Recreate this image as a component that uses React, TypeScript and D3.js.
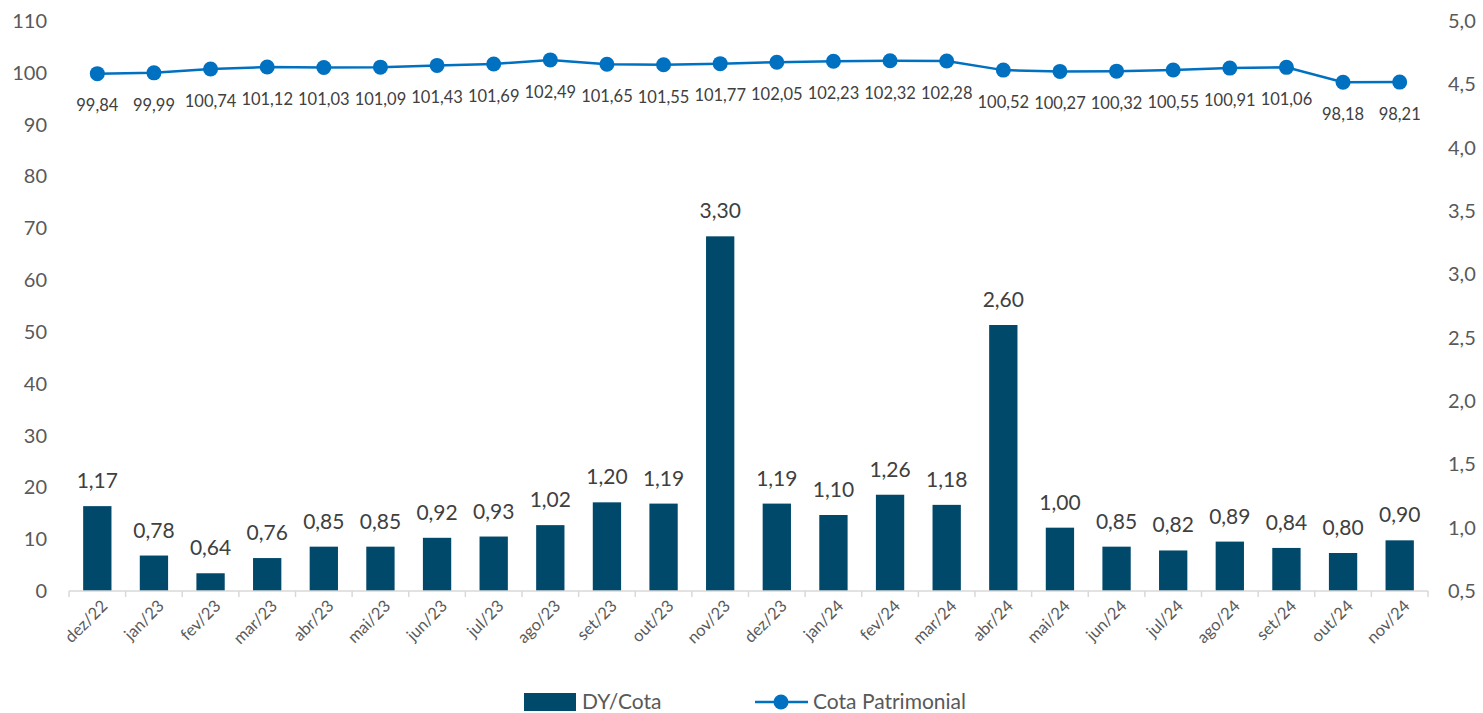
import { useEffect, useRef } from "react";
import * as d3 from "d3";

const months = [
  "dez/22", "jan/23", "fev/23", "mar/23", "abr/23", "mai/23", "jun/23", "jul/23",
  "ago/23", "set/23", "out/23", "nov/23", "dez/23", "jan/24", "fev/24", "mar/24",
  "abr/24", "mai/24", "jun/24", "jul/24", "ago/24", "set/24", "out/24", "nov/24",
];
const dyCota = [
  1.17, 0.78, 0.64, 0.76, 0.85, 0.85, 0.92, 0.93, 1.02, 1.2, 1.19, 3.3,
  1.19, 1.1, 1.26, 1.18, 2.6, 1.0, 0.85, 0.82, 0.89, 0.84, 0.8, 0.9,
];
const cotaPatrimonial = [
  99.84, 99.99, 100.74, 101.12, 101.03, 101.09, 101.43, 101.69, 102.49, 101.65, 101.55, 101.77,
  102.05, 102.23, 102.32, 102.28, 100.52, 100.27, 100.32, 100.55, 100.91, 101.06, 98.18, 98.21,
];
const leftTicks = [0, 10, 20, 30, 40, 50, 60, 70, 80, 90, 100, 110];
const rightTicks = [0.5, 1, 1.5, 2, 2.5, 3, 3.5, 4, 4.5, 5];

const FONT = "Lato, 'Open Sans', sans-serif";
const BAR = "#01496b";
const LINE = "#0070c0";
const TXT = "#595959";

const fmt = (v: number, d: number) => v.toFixed(d).replace(".", ",");

export default function App() {
  const ref = useRef<SVGSVGElement>(null);

  useEffect(() => {
    if (!ref.current) return;
    const svg = d3.select(ref.current);
    svg.selectAll("*").remove();

    const left = 69;
    const right = 1428;
    const top = 21;
    const bottom = 591;

    const x = d3.scaleBand<string>().domain(months).range([left, right]).paddingInner(0.5).paddingOuter(0.25);
    const yL = d3.scaleLinear().domain([0, 110]).range([bottom, top]);
    const yR = d3.scaleLinear().domain([0.5, 5]).range([bottom, top]);
    const cx = (m: string) => x(m)! + x.bandwidth() / 2;
    const step = x.step();

    // left axis labels
    svg.append("g")
      .selectAll("text")
      .data(leftTicks)
      .join("text")
      .attr("x", 47)
      .attr("y", (d) => yL(d))
      .attr("dy", "0.35em")
      .attr("text-anchor", "end")
      .attr("font-size", 20)
      .attr("font-family", FONT)
      .attr("fill", TXT)
      .text((d) => d);

    // right axis labels
    svg.append("g")
      .selectAll("text")
      .data(rightTicks)
      .join("text")
      .attr("x", 1448)
      .attr("y", (d) => yR(d))
      .attr("dy", "0.35em")
      .attr("text-anchor", "start")
      .attr("font-size", 20)
      .attr("font-family", FONT)
      .attr("fill", TXT)
      .text((d) => fmt(d, 1));

    // bars
    svg.append("g")
      .selectAll("rect")
      .data(months)
      .join("rect")
      .attr("x", (m) => x(m)!)
      .attr("width", x.bandwidth())
      .attr("y", (_, i) => yR(dyCota[i]))
      .attr("height", (_, i) => bottom - yR(dyCota[i]))
      .attr("fill", BAR);

    svg.append("g")
      .selectAll("text")
      .data(months)
      .join("text")
      .attr("x", (m) => cx(m))
      .attr("y", (_, i) => yR(dyCota[i]) - 18)
      .attr("text-anchor", "middle")
      .attr("font-size", 21)
      .attr("font-family", FONT)
      .attr("fill", "#404040")
      .text((_, i) => fmt(dyCota[i], 2));

    // x axis
    const ax = svg.append("g");
    ax.append("line")
      .attr("x1", left).attr("x2", right)
      .attr("y1", bottom).attr("y2", bottom)
      .attr("stroke", "#d9d9d9").attr("stroke-width", 1.5);
    ax.selectAll("line.tick")
      .data(d3.range(months.length + 1))
      .join("line")
      .attr("class", "tick")
      .attr("x1", (i) => left + i * step).attr("x2", (i) => left + i * step)
      .attr("y1", bottom).attr("y2", bottom + 6)
      .attr("stroke", "#d9d9d9").attr("stroke-width", 1.5);
    ax.selectAll("text")
      .data(months)
      .join("text")
      .attr("transform", (m) => `translate(${cx(m) + 7},${bottom + 12}) rotate(-45)`)
      .attr("text-anchor", "end")
      .attr("dy", "0.35em")
      .attr("font-size", 16.5)
      .attr("font-family", FONT)
      .attr("fill", TXT)
      .text((m) => m);

    // line
    const line = d3.line<number>()
      .x((_, i) => cx(months[i]))
      .y((d) => yL(d));
    svg.append("path")
      .datum(cotaPatrimonial)
      .attr("d", line)
      .attr("fill", "none")
      .attr("stroke", LINE)
      .attr("stroke-width", 2.5);
    svg.append("g")
      .selectAll("circle")
      .data(cotaPatrimonial)
      .join("circle")
      .attr("cx", (_, i) => cx(months[i]))
      .attr("cy", (d) => yL(d))
      .attr("r", 7.5)
      .attr("fill", LINE);
    svg.append("g")
      .selectAll("text")
      .data(cotaPatrimonial)
      .join("text")
      .attr("x", (_, i) => cx(months[i]))
      .attr("y", (d) => yL(d) + 32)
      .attr("dy", "0.35em")
      .attr("text-anchor", "middle")
      .attr("font-size", 16.5)
      .attr("font-family", FONT)
      .attr("fill", "#404040")
      .text((d) => fmt(d, 2));

    // legend
    const lg = svg.append("g");
    lg.append("rect").attr("x", 524).attr("y", 693).attr("width", 52).attr("height", 18).attr("fill", BAR);
    lg.append("text").attr("x", 582).attr("y", 702).attr("dy", "0.35em")
      .attr("font-size", 21).attr("font-family", FONT).attr("fill", TXT).text("DY/Cota");
    lg.append("line").attr("x1", 755).attr("x2", 808).attr("y1", 702).attr("y2", 702)
      .attr("stroke", LINE).attr("stroke-width", 2.5);
    lg.append("circle").attr("cx", 781).attr("cy", 702).attr("r", 7.5).attr("fill", LINE);
    lg.append("text").attr("x", 813).attr("y", 702).attr("dy", "0.35em")
      .attr("font-size", 21).attr("font-family", FONT).attr("fill", TXT).text("Cota Patrimonial");
  }, []);

  return (
    <svg
      ref={ref}
      width={1483}
      height={713}
      style={{ position: "absolute", left: 0, top: 0, background: "#fff" }}
    />
  );
}
